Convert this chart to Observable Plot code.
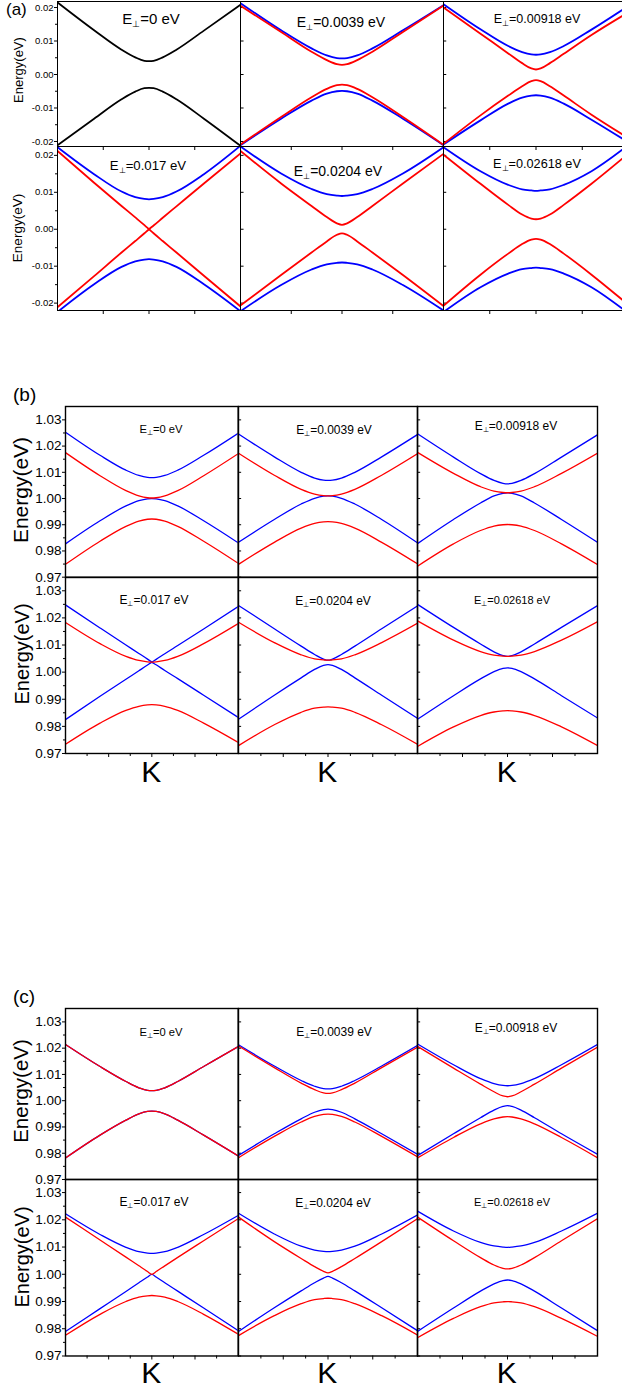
<!DOCTYPE html>
<html>
<head>
<meta charset="utf-8">
<script src="https://cdn.jsdelivr.net/npm/d3@7"></script>
<script src="https://cdn.jsdelivr.net/npm/@observablehq/plot@0.6"></script>
<style>
  body { margin: 0; background: #fff; }
  #fig { position: relative; width: 622px; height: 1393px; overflow: hidden; background: #fff;
         font-family: "Liberation Sans", Arial, sans-serif; }
</style>
</head>
<body>
<div id="fig"></div>
<script>
// ---------------- DATA ----------------
const kGrid = [-1, -0.6, -0.3, -0.15, -0.05, 0, 0.05, 0.15, 0.3, 0.6, 1];
const fieldLabels = ["0", "0.0039", "0.00918", "0.017", "0.0204", "0.02618"];
const sectionLabels = ["(a)", "(b)", "(c)"];
const yTitle = "Energy(eV)";
const kLabel = "K";
const ticksA = [0.02, 0.01, 0, -0.01, -0.02];
const minorA = [0.015, 0.005, -0.005, -0.015];
const ticksBC = [0.97, 0.98, 0.99, 1.00, 1.01, 1.02, 1.03];
const minorBC = [0.975, 0.985, 0.995, 1.005, 1.015, 1.025];

// (a) bands, eV
const bandsA1 = { deg: [
  [0.0215, 0.0132, 0.0074, 0.0051, 0.0041, 0.0040, 0.0041, 0.0051, 0.0074, 0.0131, 0.0208],
  [-0.0211, -0.0132, -0.0074, -0.0051, -0.0041, -0.0040, -0.0041, -0.0051, -0.0074, -0.0132, -0.0213]] };
const bandsA2 = {
  down: [[0.0213, 0.0132, 0.0078, 0.0057, 0.0049, 0.0048, 0.0049, 0.0057, 0.0078, 0.0132, 0.0207],
         [-0.0211, -0.0132, -0.0078, -0.0057, -0.0050, -0.0049, -0.0050, -0.0057, -0.0078, -0.0132, -0.0211]],
  up:   [[0.0205, 0.0127, 0.0068, 0.0043, 0.0031, 0.0029, 0.0031, 0.0043, 0.0068, 0.0127, 0.0206],
         [-0.0209, -0.0127, -0.0068, -0.0043, -0.0032, -0.0030, -0.0032, -0.0043, -0.0068, -0.0127, -0.0210]] };
const bandsA3 = {
  down: [[0.0210, 0.0135, 0.0085, 0.0067, 0.0060, 0.0059, 0.0060, 0.0067, 0.0085, 0.0134, 0.0205],
         [-0.0209, -0.0137, -0.0087, -0.0069, -0.0063, -0.0062, -0.0063, -0.0069, -0.0087, -0.0135, -0.0203]],
  up:   [[0.0200, 0.0122, 0.0063, 0.0034, 0.0018, 0.0015, 0.0018, 0.0034, 0.0062, 0.0118, 0.0186],
         [-0.0207, -0.0122, -0.0063, -0.0035, -0.0020, -0.0017, -0.0020, -0.0035, -0.0063, -0.0120, -0.0190]] };
const bandsA4 = {
  down: [[0.0222, 0.0149, 0.0102, 0.0087, 0.0082, 0.0081, 0.0082, 0.0087, 0.0102, 0.0149, 0.0226],
         [-0.0224, -0.0149, -0.0102, -0.0087, -0.0082, -0.0081, -0.0082, -0.0087, -0.0102, -0.0149, -0.0222]],
  up:   [[0.0212, 0.0126, 0.0063, 0.0032, 0.0011, 0.0000, -0.0011, -0.0032, -0.0063, -0.0126, -0.0209],
         [-0.0211, -0.0127, -0.0063, -0.0032, -0.0011, 0.0000, 0.0010, 0.0031, 0.0062, 0.0124, 0.0205]] };
const bandsA5 = {
  down: [[0.0224, 0.0151, 0.0109, 0.0095, 0.0091, 0.0090, 0.0091, 0.0095, 0.0109, 0.0151, 0.0222],
         [-0.0222, -0.0151, -0.0109, -0.0095, -0.0091, -0.0090, -0.0091, -0.0095, -0.0109, -0.0151, -0.0220]],
  up:   [[0.0212, 0.0124, 0.0063, 0.0033, 0.0016, 0.0012, 0.0016, 0.0033, 0.0063, 0.0124, 0.0204],
         [-0.0206, -0.0124, -0.0063, -0.0033, -0.0015, -0.0011, -0.0015, -0.0033, -0.0063, -0.0124, -0.0208]] };
const bandsA6 = {
  down: [[0.0222, 0.0157, 0.0120, 0.0108, 0.0105, 0.0104, 0.0105, 0.0108, 0.0120, 0.0157, 0.0228],
         [-0.0224, -0.0157, -0.0120, -0.0108, -0.0105, -0.0104, -0.0105, -0.0108, -0.0120, -0.0157, -0.0228]],
  up:   [[0.0202, 0.0123, 0.0066, 0.0040, 0.0029, 0.0027, 0.0029, 0.0040, 0.0066, 0.0123, 0.0205],
         [-0.0207, -0.0123, -0.0066, -0.0040, -0.0028, -0.0026, -0.0028, -0.0040, -0.0066, -0.0123, -0.0205]] };

// (b) bands, eV
const bandsB1 = {
  down: [[1.0253, 1.0165, 1.0108, 1.0088, 1.0081, 1.0080, 1.0081, 1.0088, 1.0108, 1.0165, 1.0249],
         [0.9827, 0.9915, 0.9972, 0.9992, 0.9999, 1.0000, 0.9999, 0.9992, 0.9972, 0.9915, 0.9831]],
  up:   [[1.0175, 1.0087, 1.0030, 1.0010, 1.0003, 1.0002, 1.0003, 1.0010, 1.0030, 1.0087, 1.0171],
         [0.9749, 0.9837, 0.9894, 0.9914, 0.9921, 0.9922, 0.9921, 0.9914, 0.9894, 0.9837, 0.9753]] };
const bandsB2 = {
  down: [[1.0246, 1.0159, 1.0100, 1.0078, 1.0070, 1.0069, 1.0070, 1.0078, 1.0100, 1.0159, 1.0244],
         [0.9833, 0.9920, 0.9979, 1.0001, 1.0009, 1.0010, 1.0009, 1.0001, 0.9979, 0.9920, 0.9831]],
  up:   [[1.0173, 1.0089, 1.0035, 1.0017, 1.0011, 1.0010, 1.0011, 1.0017, 1.0035, 1.0089, 1.0171],
         [0.9749, 0.9833, 0.9887, 0.9905, 0.9911, 0.9912, 0.9911, 0.9905, 0.9887, 0.9833, 0.9751]] };
const bandsB3 = {
  down: [[1.0247, 1.0158, 1.0095, 1.0069, 1.0058, 1.0056, 1.0058, 1.0069, 1.0095, 1.0158, 1.0243],
         [0.9828, 0.9920, 0.9983, 1.0010, 1.0020, 1.0022, 1.0020, 1.0010, 0.9983, 0.9920, 0.9833]],
  up:   [[1.0176, 1.0096, 1.0045, 1.0028, 1.0023, 1.0022, 1.0023, 1.0028, 1.0045, 1.0096, 1.0173],
         [0.9742, 0.9827, 0.9878, 0.9895, 0.9900, 0.9901, 0.9900, 0.9895, 0.9878, 0.9827, 0.9748]] };
const bandsB4 = {
  down: [[1.0248, 1.0163, 1.0100, 1.0069, 1.0048, 1.0037, 1.0027, 1.0006, 0.9976, 0.9915, 0.9833],
         [0.9825, 0.9911, 0.9974, 1.0005, 1.0026, 1.0037, 1.0047, 1.0068, 1.0098, 1.0159, 1.0242]],
  up:   [[1.0183, 1.0105, 1.0058, 1.0043, 1.0038, 1.0037, 1.0038, 1.0043, 1.0058, 1.0105, 1.0179],
         [0.9734, 0.9812, 0.9859, 0.9874, 0.9879, 0.9880, 0.9879, 0.9874, 0.9859, 0.9812, 0.9741]] };
const bandsB5 = {
  down: [[1.0246, 1.0160, 1.0096, 1.0065, 1.0048, 1.0044, 1.0048, 1.0065, 1.0096, 1.0160, 1.0244],
         [0.9826, 0.9915, 0.9979, 1.0010, 1.0025, 1.0028, 1.0025, 1.0010, 0.9979, 0.9915, 0.9830]],
  up:   [[1.0184, 1.0109, 1.0064, 1.0049, 1.0045, 1.0044, 1.0045, 1.0049, 1.0064, 1.0109, 1.0180],
         [0.9729, 0.9806, 0.9852, 0.9867, 0.9871, 0.9872, 0.9871, 0.9867, 0.9852, 0.9806, 0.9734]] };
const bandsB6 = {
  down: [[1.0250, 1.0165, 1.0104, 1.0075, 1.0061, 1.0058, 1.0061, 1.0075, 1.0104, 1.0165, 1.0245],
         [0.9826, 0.9913, 0.9975, 1.0002, 1.0014, 1.0016, 1.0014, 1.0002, 0.9975, 0.9913, 0.9831]],
  up:   [[1.0189, 1.0118, 1.0076, 1.0063, 1.0059, 1.0058, 1.0059, 1.0063, 1.0076, 1.0118, 1.0186],
         [0.9726, 0.9798, 0.9840, 0.9853, 0.9857, 0.9858, 0.9857, 0.9853, 0.9840, 0.9798, 0.9729]] };

// (c) bands, eV
const bandsC1 = {
  down: [[1.0214, 1.0130, 1.0073, 1.0049, 1.0039, 1.0038, 1.0039, 1.0049, 1.0073, 1.0130, 1.0206],
         [0.9782, 0.9869, 0.9926, 0.9950, 0.9959, 0.9960, 0.9959, 0.9950, 0.9926, 0.9869, 0.9790]],
  up:   [[1.0214, 1.0130, 1.0073, 1.0049, 1.0039, 1.0038, 1.0039, 1.0049, 1.0073, 1.0130, 1.0206],
         [0.9782, 0.9869, 0.9926, 0.9950, 0.9959, 0.9960, 0.9959, 0.9950, 0.9926, 0.9869, 0.9790]] };
const bandsC2 = {
  down: [[1.0213, 1.0132, 1.0077, 1.0055, 1.0046, 1.0045, 1.0046, 1.0055, 1.0077, 1.0132, 1.0210],
         [0.9792, 0.9874, 0.9931, 0.9956, 0.9966, 0.9968, 0.9966, 0.9956, 0.9931, 0.9874, 0.9796]],
  up:   [[1.0208, 1.0126, 1.0067, 1.0042, 1.0030, 1.0028, 1.0030, 1.0042, 1.0067, 1.0126, 1.0204],
         [0.9783, 0.9864, 0.9919, 0.9940, 0.9948, 0.9949, 0.9948, 0.9940, 0.9919, 0.9864, 0.9786]] };
const bandsC3 = {
  down: [[1.0216, 1.0137, 1.0084, 1.0065, 1.0058, 1.0057, 1.0058, 1.0065, 1.0084, 1.0137, 1.0214],
         [0.9791, 0.9874, 0.9935, 0.9964, 0.9978, 0.9981, 0.9978, 0.9964, 0.9935, 0.9874, 0.9796]],
  up:   [[1.0207, 1.0124, 1.0063, 1.0034, 1.0018, 1.0015, 1.0018, 1.0034, 1.0063, 1.0124, 1.0204],
         [0.9782, 0.9860, 0.9912, 0.9931, 0.9938, 0.9939, 0.9938, 0.9931, 0.9912, 0.9860, 0.9783]] };
const bandsC4 = {
  down: [[1.0222, 1.0146, 1.0099, 1.0083, 1.0078, 1.0077, 1.0078, 1.0083, 1.0099, 1.0146, 1.0216],
         [0.9790, 0.9874, 0.9937, 0.9969, 0.9990, 1.0000, 0.9990, 0.9969, 0.9938, 0.9876, 0.9793]],
  up:   [[1.0210, 1.0126, 1.0063, 1.0031, 1.0010, 1.0000, 1.0010, 1.0031, 1.0062, 1.0123, 1.0204],
         [0.9776, 0.9853, 0.9900, 0.9916, 0.9921, 0.9922, 0.9921, 0.9916, 0.9900, 0.9853, 0.9780]] };
const bandsC5 = {
  down: [[1.0224, 1.0148, 1.0103, 1.0089, 1.0084, 1.0083, 1.0084, 1.0089, 1.0103, 1.0148, 1.0218],
         [0.9790, 0.9877, 0.9939, 0.9969, 0.9986, 0.9992, 0.9986, 0.9969, 0.9939, 0.9877, 0.9793]],
  up:   [[1.0210, 1.0120, 1.0058, 1.0028, 1.0011, 1.0005, 1.0011, 1.0028, 1.0058, 1.0120, 1.0204],
         [0.9775, 0.9848, 0.9892, 0.9907, 0.9911, 0.9912, 0.9911, 0.9907, 0.9892, 0.9848, 0.9777]] };
const bandsC6 = {
  down: [[1.0232, 1.0159, 1.0117, 1.0104, 1.0100, 1.0099, 1.0100, 1.0104, 1.0117, 1.0159, 1.0224],
         [0.9790, 0.9876, 0.9938, 0.9965, 0.9977, 0.9979, 0.9977, 0.9965, 0.9938, 0.9876, 0.9793]],
  up:   [[1.0210, 1.0123, 1.0061, 1.0034, 1.0022, 1.0020, 1.0022, 1.0034, 1.0061, 1.0123, 1.0204],
         [0.9767, 0.9838, 0.9881, 0.9895, 0.9899, 0.9900, 0.9899, 0.9895, 0.9881, 0.9838, 0.9772]] };

// ---------------- LAYOUT / STYLE ----------------
const FONT = "Liberation Sans, Arial, sans-serif";
const spinColor = { deg: "#000000", down: "#0000ff", up: "#ff0000" };
const drawOrder = ["deg", "down", "up"];

const sections = [
  { panels: [bandsA1, bandsA2, bandsA3, bandsA4, bandsA5, bandsA6],
    cols: [[57, 240], [240, 443], [443, 628]], rows: [[1, 146], [146, 310]],
    yDomains: [[-0.0215, 0.0218], [-0.022, 0.0224]], ticks: ticksA, minor: minorA,
    tickFont: 9.5, lw: 1.8, frameW: 1, xTicksAllRows: true,
    titles: [[151, 24, 15], [341, 27, 14], [537, 23, 12.5], [148, 170, 13.2], [338, 176, 14], [537, 168, 12.7]],
    ylab: [[23, 70, 13], [22, 228, 13.5]], sec: [6, 15, 17], kBase: null },
  { panels: [bandsB1, bandsB2, bandsB3, bandsB4, bandsB5, bandsB6],
    cols: [[65, 237.7], [237.7, 416.7], [416.7, 596.7]], rows: [[406, 576.7], [576.7, 752.7]],
    yDomains: [[0.97, 1.0351], [0.97, 1.0349]], ticks: ticksBC, minor: minorBC,
    tickFont: 13.5, lw: 1.3, frameW: 1.4, xTicksAllRows: false,
    titles: [[161, 433, 11.2], [334, 434, 12], [516, 430, 12], [154, 604, 12], [333, 605, 12], [512, 604, 11]],
    ylab: [[28, 490, 21], [29, 654, 20]], sec: [13, 401, 19], kBase: 782 },
  { panels: [bandsC1, bandsC2, bandsC3, bandsC4, bandsC5, bandsC6],
    cols: [[65, 237.7], [237.7, 416.7], [416.7, 596.7]], rows: [[1008, 1179], [1179, 1355.5]],
    yDomains: [[0.97, 1.0351], [0.97, 1.0348]], ticks: ticksBC, minor: minorBC,
    tickFont: 13.5, lw: 1.3, frameW: 1.4, xTicksAllRows: false,
    titles: [[161, 1036, 11.2], [334, 1036, 12], [516, 1032, 12], [154, 1206, 12], [333, 1206.5, 12], [512, 1206, 11]],
    ylab: [[28, 1091, 20.5], [29, 1257, 20]], sec: [13, 1003, 19], kBase: 1383 }
];

const fig = document.getElementById("fig");

function tidy(panel) {
  const rows = [];
  for (const [spin, curves] of Object.entries(panel)) {
    curves.forEach((vals, j) => vals.forEach((E, i) => rows.push({ k: kGrid[i], E, spin, curve: spin + j })));
  }
  return rows;
}

function drawPanel(sec, r, c) {
  const panel = sec.panels[r * 3 + c];
  const [x0, x1] = sec.cols[c];
  const [y0, y1] = sec.rows[r];
  const left = c === 0;
  const bottom = sec.xTicksAllRows || r === 1;
  const mL = left ? 60 : 0, mB = bottom ? 6 : 0;
  const W = x1 - x0 + mL, H = y1 - y0 + mB;
  const rows = tidy(panel);
  const marks = [];
  if (left) {
    marks.push(Plot.axisY(sec.ticks, { anchor: "left", tickSize: 3, tickPadding: 1,
      tickFormat: d => d.toFixed(2), fontSize: sec.tickFont, label: null }));
    marks.push(Plot.axisY(sec.minor, { anchor: "left", tickSize: 2, tickFormat: () => "", label: null }));
  } else {
    marks.push(Plot.ruleY(sec.ticks, { x1: -1, x2: -0.965, stroke: "#000" }));
  }
  if (bottom) {
    marks.push(Plot.axisX([-0.5, 0, 0.5], { anchor: "bottom", tickSize: 4, tickFormat: () => "", label: null }));
    if (!sec.xTicksAllRows) marks.push(Plot.axisX([-0.75, -0.25, 0.25, 0.75], { anchor: "bottom", tickSize: 3, tickFormat: () => "", label: null }));
  }
  for (const s of drawOrder) {
    const sub = rows.filter(d => d.spin === s);
    if (sub.length) marks.push(Plot.line(sub, { x: "k", y: "E", z: "curve", stroke: spinColor[s],
      strokeWidth: sec.lw, curve: "monotone-x", clip: true }));
  }
  marks.push(Plot.frame({ stroke: "#000", strokeWidth: sec.frameW }));
  const svg = Plot.plot({
    width: W, height: H, marginLeft: mL, marginRight: 0, marginTop: 0, marginBottom: mB,
    x: { domain: [-1, 1], axis: null }, y: { domain: sec.yDomains[r], axis: null },
    style: { overflow: "visible", background: "transparent", fontFamily: FONT, color: "#000" },
    marks
  });
  svg.style.position = "absolute";
  svg.style.left = (x0 - mL) + "px";
  svg.style.top = y0 + "px";
  svg.style.maxWidth = "none";
  fig.appendChild(svg);
}

sections.forEach(sec => { for (let r = 0; r < 2; r++) for (let c = 0; c < 3; c++) drawPanel(sec, r, c); });

// ---------------- TEXT OVERLAY ----------------
const ov = d3.select(fig).append("svg")
  .attr("width", 622).attr("height", 1393)
  .style("position", "absolute").style("left", "0px").style("top", "0px")
  .style("pointer-events", "none").style("overflow", "visible")
  .attr("font-family", FONT).attr("fill", "#000");

sections.forEach((sec, si) => {
  ov.append("text").attr("x", sec.sec[0]).attr("y", sec.sec[1]).attr("font-size", sec.sec[2]).text(sectionLabels[si]);
  sec.titles.forEach(([cx, by, fs], i) => {
    const t = ov.append("text").attr("x", cx).attr("y", by).attr("text-anchor", "middle").attr("font-size", fs);
    t.append("tspan").text("E");
    t.append("tspan").attr("font-size", fs * 0.6).attr("dy", fs * 0.2).text("\u22A5");
    t.append("tspan").attr("dy", -fs * 0.2).text("=" + fieldLabels[i] + " eV");
  });
  sec.ylab.forEach(([x, y, fs]) => {
    ov.append("text").attr("transform", `translate(${x},${y}) rotate(-90)`)
      .attr("text-anchor", "middle").attr("font-size", fs).text(yTitle);
  });
  if (sec.kBase) {
    sec.cols.forEach(([a, b]) => {
      ov.append("text").attr("x", (a + b) / 2).attr("y", sec.kBase).attr("text-anchor", "middle")
        .attr("font-size", 30).text(kLabel);
    });
  }
});
</script>
</body>
</html>
